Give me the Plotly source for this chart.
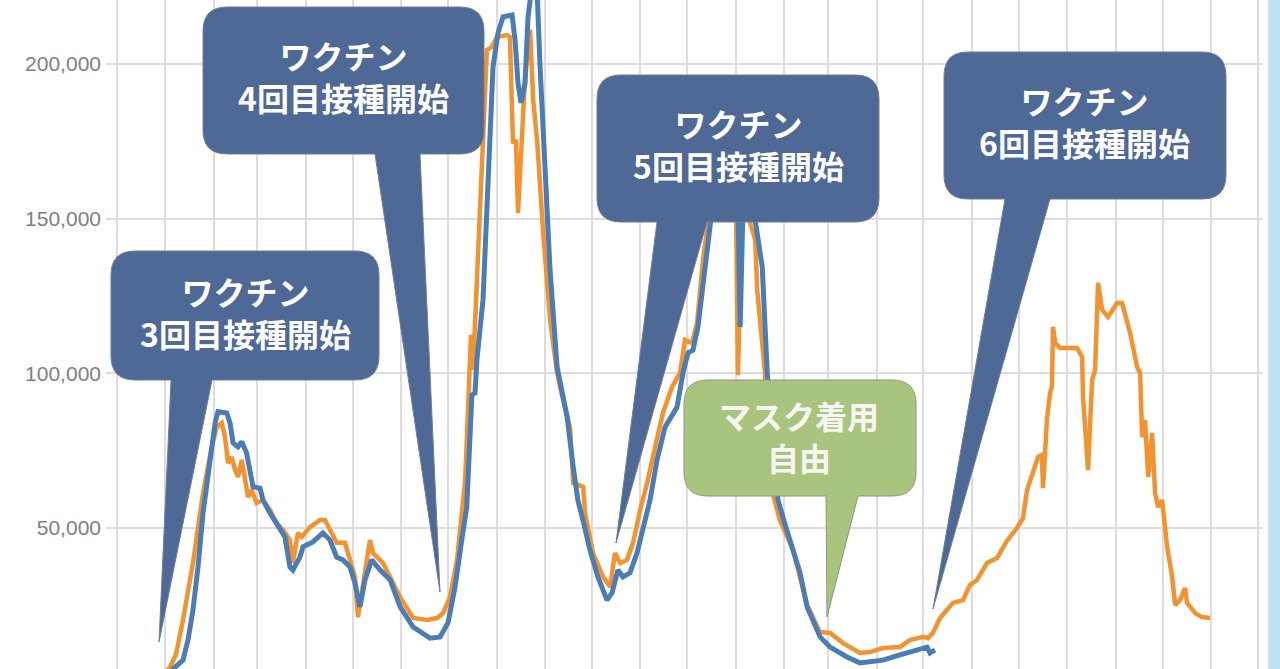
import numpy as np
import pandas as pd
import plotly.graph_objects as go

# ---------------- data (days since 2021-12-01, daily new cases) ----------------
START = "2021-12-01"

blue_days = [0, 21, 31, 36, 42.4, 45.6, 48.8, 52, 55.2, 59.7, 62.9, 64.8, 70.4, 72.5, 74.4, 77.6,
             80, 83.1, 85.3, 87.2, 91.7, 93.6, 98.1, 102.3, 107.6, 110.8, 112.7, 117.2, 119.2,
             125.5, 131.9, 136.4, 140.7, 144.7, 149.2, 152.4, 155.6, 158.8, 163.1, 168.5, 174.9,
             181.3, 189.6, 200.4, 206.8, 211.9, 216.4, 220.7, 223.9, 225.3, 227.2, 229.2, 230.4,
             234.3, 237.5, 240.7, 243.9, 247.1, 252.9, 254.8, 256.7, 258.6, 261.2, 263.1, 265.6,
             268.8, 270.8, 274.0, 277.2, 281.7, 288.1, 292.0, 295.0, 298.2, 302.7, 307.8, 313.6,
             316.8, 320.6, 323.8, 328.3, 332.8, 336.6, 341.1, 345.6, 350.7, 358.4, 362.2, 365.4,
             368.6, 371.8, 376.3, 379.5, 384.6, 389.8, 394.3, 396.8, 398.8, 400.7, 403.9, 406.5,
             408.4, 412.9, 416.1, 419.3, 423.0, 427.6, 432.6, 437.1, 441.6, 446.7, 449.9, 456.3,
             467.1, 475.4, 481.8, 490.1, 501.0, 511.9, 518.3, 520.2, 523.4]
blue_vals = [150, 500, 1200, 4400, 7300, 13800, 23500, 37400, 54800, 71000, 83900, 87600, 87200,
             83900, 77500, 76200, 77900, 74200, 67800, 63300, 62900, 59000, 54800, 51600, 47100,
             37400, 36400, 40600, 43900, 45500, 48400, 46100, 40600, 39700, 37400, 32200, 24500,
             33200, 39700, 36400, 33200, 24500, 18000, 14400, 14800, 19300, 30900, 46100, 56800,
             72000, 93000, 93600, 104300, 123700, 166700, 199000, 210000, 215200, 215800, 207700,
             193800, 187400, 193800, 215200, 225000, 225000, 199000, 166700, 133300, 102000,
             85900, 69700, 59000, 52600, 42900, 34200, 26700, 29000, 36400, 34200, 35500, 41900,
             49400, 59000, 72000, 82600, 89100, 100100, 106600, 107500, 115000, 134400, 147300,
             168900, 178600, 180300, 168900, 115000, 155900, 178600, 172200, 149500, 134400,
             100100, 81700, 59000, 51000, 42900, 35500, 24500, 18600, 14800, 11500, 8300, 6400,
             6700, 7300, 9000, 10600, 11500, 9600, 10600]

orange_days = [0, 21.3, 29.0, 34.1, 37.9, 42.4, 48.8, 55.2, 60.8, 64.0, 67.2, 69.3, 71.2, 73.6,
               75.7, 77.6, 80.0, 82.1, 84.0, 86.3, 89.5, 93.6, 98.1, 102.3, 106.4, 110.8, 112.7,
               115.9, 118.3, 123.6, 130.0, 133.2, 136.4, 140.7, 146.0, 149.2, 152.4, 154.3, 157.5,
               162.0, 163.9, 170.3, 174.8, 181.2, 189.6, 198.5, 204.9, 208.8, 213.2, 217.7, 222.9,
               225.3, 226.6, 227.9, 229.8, 232.4, 235.6, 236.8, 240.0, 243.2, 249.6, 251.5, 253.5,
               255.4, 256.7, 259.2, 261.2, 264.4, 266.4, 268.9, 272.8, 277.2, 281.7, 285.5, 290.0,
               292.0, 298.4, 299.6, 304.7, 311.1, 315.6, 318.7, 322.0, 326.4, 330.3, 334.8, 339.3,
               344.4, 349.4, 355.2, 360.3, 363.5, 368.0, 371.2, 375.0, 378.2, 383.4, 389.1, 394.2,
               396.2, 397.4, 399.4, 402.6, 405.2, 408.4, 409.7, 414.5, 419.6, 424.1, 432.6, 441.6,
               446.7, 449.9, 456.3, 464.6, 475.4, 481.8, 490.1, 501.0, 507.4, 515.7, 518.9, 522.1,
               526.6, 534.9, 541.3, 545.8, 550.3, 556.7, 563.1, 569.4, 575.8, 579.7, 582.3, 586.1,
               589.3, 591.8, 592.5, 595.0, 597.0, 598.2, 598.9, 600.2, 603.4, 614.3, 617.5, 618.1,
               621.3, 623.9, 625.8, 627.7, 630.3, 634.1, 639.9, 643.1, 646.3, 648.2, 652.7, 654.6,
               655.9, 657.8, 659.8, 662.3, 664.2, 666.1, 668.7, 671.9, 675.1, 677.0, 680.2, 683.4,
               684.6, 689.8, 694.2, 699.4]
orange_vals = [150, 700, 1800, 5100, 9000, 20300, 38700, 61300, 76200, 82600, 83900, 79400, 71000,
               72900, 68700, 66500, 72000, 66500, 60000, 62300, 58100, 59000, 55800, 51600, 49400,
               46100, 38700, 48400, 47100, 50300, 52600, 52600, 49400, 45200, 45200, 39700, 34200,
               21200, 30900, 46100, 41900, 38700, 34200, 27700, 20900, 20300, 20900, 22500, 27700,
               39700, 65500, 94600, 112400, 101100, 123700, 150500, 188300, 204500, 205500, 208700,
               209300, 208700, 174400, 175400, 151800, 177700, 195800, 211000, 188300, 175400,
               145300, 117200, 100100, 91400, 82600, 64500, 63300, 54800, 41900, 34200, 30900,
               41900, 38700, 39700, 45200, 55800, 64500, 76200, 87200, 95600, 100100, 110800,
               109800, 116300, 136600, 148600, 167300, 175400, 177000, 149500, 99400, 139800,
               172200, 148600, 143100, 126900, 101000, 61300, 52600, 42900, 25100, 19600, 16400,
               16100, 12800, 9600, 9900, 11200, 11500, 13800, 14800, 14400, 16100, 20900, 25800,
               26700, 31600, 33200, 38700, 40300, 45800, 50000, 53200, 62300, 68700, 72900, 73600,
               62900, 84900, 93600, 95600, 115000, 109800, 108200, 108200, 105300, 92300, 68700,
               97800, 101100, 129200, 120500, 118200, 122700, 122700, 116300, 113000, 102000,
               100100, 79400, 84900, 66500, 80700, 61300, 56800, 59000, 43900, 34200, 25100, 26700,
               30600, 25800, 22500, 21200, 20900]

y_tick_vals = [50000, 100000, 150000, 200000]

callout_texts = [
    ("ワクチン", "3回目接種開始"),
    ("ワクチン", "4回目接種開始"),
    ("ワクチン", "5回目接種開始"),
    ("マスク着用", "自由"),
    ("ワクチン", "6回目接種開始"),
]

# ---------------- layout geometry ----------------
W, H = 1280, 669
L, R = 106, 17
PW = W - L - R


def to_dates(days):
    return pd.Timestamp(START) + pd.to_timedelta(np.asarray(days, dtype=float), unit="D")


def pp(px, py):
    return (px - L) / PW, 1 - py / H


def callout_path(x0, y0, x1, y1, r, tb0, tb1, tx, ty):
    pts = [("M", [(x0 + r, y0)]), ("L", [(x1 - r, y0)]), ("Q", [(x1, y0), (x1, y0 + r)]),
           ("L", [(x1, y1 - r)]), ("Q", [(x1, y1), (x1 - r, y1)]), ("L", [(tb1, y1)]),
           ("L", [(tx, ty)]), ("L", [(tb0, y1)]), ("L", [(x0 + r, y1)]),
           ("Q", [(x0, y1), (x0, y1 - r)]), ("L", [(x0, y0 + r)]), ("Q", [(x0, y0), (x0 + r, y0)])]
    s = ""
    for cmd, ps in pts:
        s += cmd + " " + " ".join("%.5f,%.5f" % pp(a, b) for a, b in ps) + " "
    return s + "Z"


fig = go.Figure()
fig.add_trace(go.Scatter(x=to_dates(orange_days), y=orange_vals, mode="lines",
                         line=dict(color="#f2932f", width=4.5), showlegend=False))
fig.add_trace(go.Scatter(x=to_dates(blue_days), y=blue_vals, mode="lines",
                         line=dict(color="#4a7cb6", width=5), showlegend=False))

# callouts: box (x0,y0,x1,y1), tail base (b0,b1), tip, text center x / y, colors, font size
callouts = [
    dict(box=(111, 251, 379, 380), base=(171, 212), tip=(159, 642), cx=245, cy=312,
         fill="#4e6996", edge="#6e7f99", fc="white", fs=32),
    dict(box=(203, 7, 484, 154), base=(375, 420), tip=(440, 592), cx=343, cy=76,
         fill="#4e6996", edge="#6e7f99", fc="white", fs=32),
    dict(box=(597, 75, 879, 222), base=(657, 707), tip=(616, 543), cx=738, cy=144,
         fill="#4e6996", edge="#6e7f99", fc="white", fs=32),
    dict(box=(684, 380, 916, 496), base=(826, 858), tip=(827, 617), cx=799, cy=436,
         fill="#a8c47e", edge="#8c9a78", fc="#f7f7f2", fs=32),
    dict(box=(944, 52, 1226, 199), base=(1005, 1050), tip=(933, 609), cx=1084, cy=121,
         fill="#4e6996", edge="#6e7f99", fc="white", fs=32),
]

shapes = []
annotations = []
for c, (t1, t2) in zip(callouts, callout_texts):
    x0, y0, x1, y1 = c["box"]
    shapes.append(dict(type="path", xref="paper", yref="paper", layer="above",
                       path=callout_path(x0, y0, x1, y1, 24, c["base"][0], c["base"][1],
                                         c["tip"][0], c["tip"][1]),
                       fillcolor=c["fill"], line=dict(color=c["edge"], width=1)))
    ax, ay = pp(c["cx"], c["cy"])
    annotations.append(dict(x=ax, y=ay, xref="paper", yref="paper", text=t1 + "<br>" + t2,
                            showarrow=False, xanchor="center", yanchor="middle", align="center",
                            font=dict(family="Noto Sans CJK JP", size=c["fs"],
                                      color=c["fc"], weight="bold")))

# light blue strip at the right edge
sx0, _ = pp(1268, 0)
sx1, _ = pp(1282, 0)
shapes.append(dict(type="rect", xref="paper", yref="paper", x0=sx0, x1=sx1, y0=-0.01, y1=1.01,
                   fillcolor="#bfe2f6", line=dict(width=0), layer="above"))

x_lo = pd.Timestamp(START) + pd.Timedelta(days=(L - 116.7) / 1.5634)
x_hi = pd.Timestamp(START) + pd.Timedelta(days=(W - R - 116.7) / 1.5634)

fig.update_layout(
    width=W, height=H,
    margin=dict(l=L, r=R, t=0, b=0),
    paper_bgcolor="white", plot_bgcolor="white",
    shapes=shapes, annotations=annotations,
    xaxis=dict(type="date", range=[x_lo, x_hi], dtick="M1", tick0=START,
               showticklabels=False, ticks="", showgrid=True, gridcolor="#dcdcdc",
               gridwidth=1.5, zeroline=False, showline=False),
    yaxis=dict(range=[(682.7 - 669) * 323.2, 682.7 * 323.2], tickvals=y_tick_vals,
               tickformat=",", ticks="", showgrid=True, gridcolor="#dcdcdc", gridwidth=1.5,
               zeroline=False, showline=False, ticklabelstandoff=4,
               tickfont=dict(family="Liberation Sans", size=21, color="#808080")),
)

fig.write_html("out.html", config={"displayModeBar": False},
               post_script="document.body.style.margin='0';document.body.style.overflow='hidden';")
